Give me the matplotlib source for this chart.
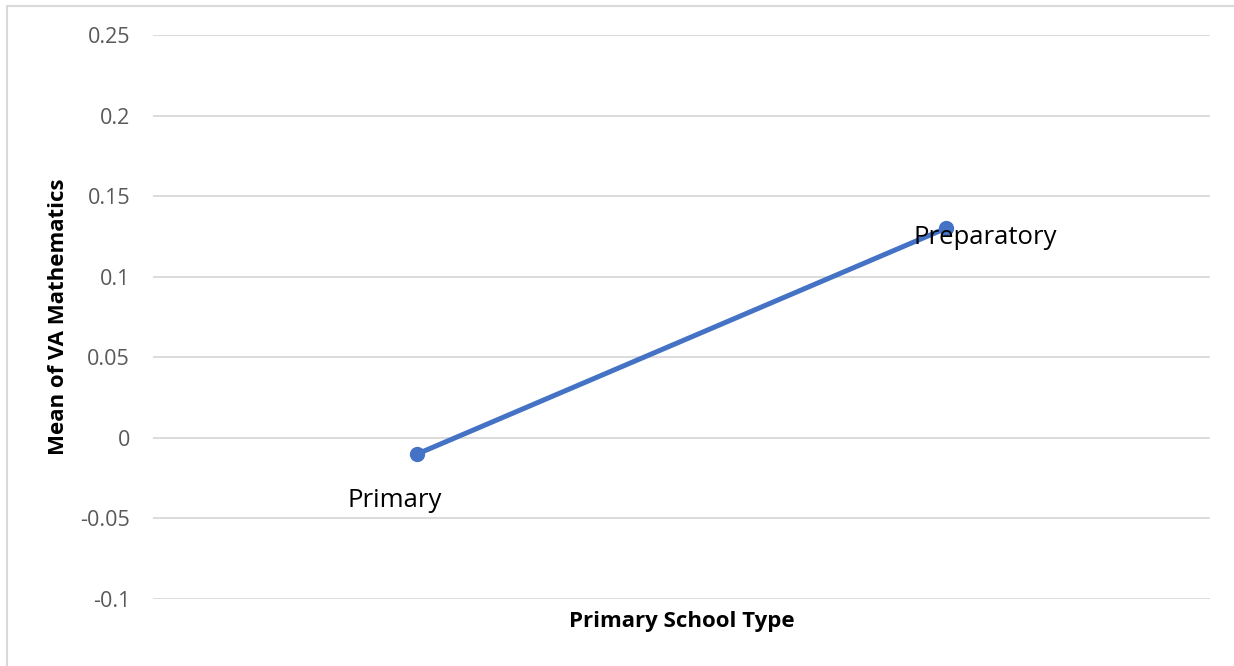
import matplotlib
matplotlib.use("Agg")
import matplotlib.pyplot as plt
from matplotlib.patches import Rectangle

# Mean value-added mathematics score by primary school type
categories = ["Primary", "Preparatory"]
mean_va = [-0.01, 0.13]
y_ticks = [-0.1, -0.05, 0, 0.05, 0.1, 0.15, 0.2, 0.25]
y_tick_labels = ["-0.1", "-0.05", "0", "0.05", "0.1", "0.15", "0.2", "0.25"]

W, H = 1234, 666
plt.rcParams["font.family"] = ["Open Sans", "DejaVu Sans"]
fig = plt.figure(figsize=(W / 100, H / 100), dpi=100)

# light chart-area border
fig.patches.append(Rectangle((7 / W, -0.1), 1.2, (H - 6) / H + 0.1,
                             transform=fig.transFigure, fill=False,
                             edgecolor="#d9d9d9", linewidth=1.5))

ax = fig.add_axes([153 / W, (H - 599) / H, (1210 - 153) / W, (599 - 35) / H])
x = list(range(len(categories)))
ax.plot(x, mean_va, color="#4472C4", linewidth=3.6, marker="o",
        markersize=10, solid_capstyle="round", zorder=3)

ax.set_xlim(-0.5, len(categories) - 0.5)
ax.set_ylim(y_ticks[0], y_ticks[-1])
ax.set_yticks(y_ticks)
ax.set_yticklabels(y_tick_labels)
ax.set_xticks([])
ax.tick_params(axis="y", length=0, pad=16.5, labelsize=15.5,
               labelcolor="#595959")
ax.grid(axis="y", color="#d9d9d9", linewidth=1.3)
ax.set_axisbelow(True)
for s in ax.spines.values():
    s.set_visible(False)

# category labels next to each point
offsets = [(-23, -47), (39, -9)]
for xi, yi, name, off in zip(x, mean_va, categories, offsets):
    ax.annotate(name, (xi, yi), xytext=off, textcoords="offset pixels",
                ha="center", va="center", fontsize=18.5, color="black")

ax.set_xlabel("Primary School Type", fontsize=16, fontweight="bold")
ax.set_ylabel("Mean of VA Mathematics", fontsize=16, fontweight="bold")
ax.xaxis.set_label_coords(0.5, -0.022)
ax.yaxis.set_label_coords(-0.079, 0.5)

fig.savefig("out.png", dpi=100)
